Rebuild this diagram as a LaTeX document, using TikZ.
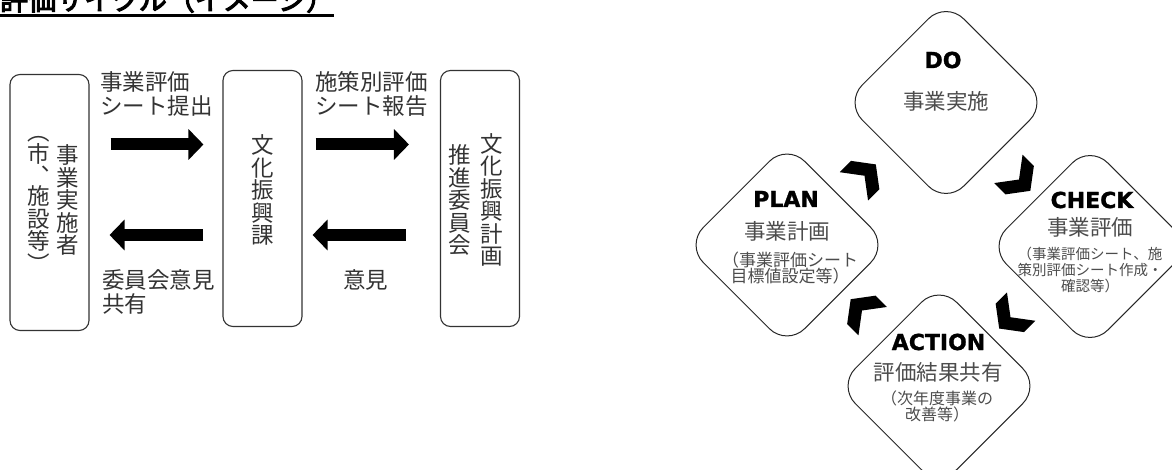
\documentclass[tikz,border=0pt]{standalone}
\usepackage{fontspec}
\setmainfont{Noto Sans CJK JP}
\newfontfamily\midashifont{Noto Sans CJK JP}[FakeBold=4]
\newfontfamily\pdcafont{DejaVu Sans}[BoldFeatures={FakeBold=1.2}]
\usetikzlibrary{shapes.geometric,arrows.meta,calc}

\tikzset{
  waku/.style={draw=black!80,line width=1.1pt,rounded corners=10pt,inner sep=0pt,minimum width=79pt,minimum height=256pt},
  tate/.style={align=center,inner sep=0pt,text=black!80,font=\fontsize{22.5pt}{22.5pt}\selectfont},
  yoko/.style={align=left,anchor=base west,inner sep=0pt,text=black!80,font=\fontsize{22.5pt}{24pt}\selectfont},
  fatarrow/.style={line width=12pt,-{Triangle[width=30pt,length=15pt]}},
  hishi/.style={diamond,draw=black!85,line width=1pt,rounded corners=25pt,minimum size=203pt,inner sep=0pt},
  pdca/.style={anchor=base,inner sep=0pt,font=\pdcafont\bfseries\fontsize{22pt}{22pt}\selectfont},
  naiyo/.style={anchor=base,inner sep=0pt,text=black!70,font=\fontsize{21.5pt}{22pt}\selectfont},
  hosoku/.style={anchor=base,align=center,inner sep=0pt,text=black!70},
  chevron/.pic={\fill (16pt,0pt) -- (1pt,20pt) -- (-15pt,20pt) -- (0pt,0pt) -- (-15pt,-20pt) -- (1pt,-20pt) -- cycle;}
}

\begin{document}
\begin{tikzpicture}[x=1pt,y=-1pt]
\useasboundingbox (0,0) rectangle (1172,470);
\clip (0,0) rectangle (1172,470);

\node[anchor=base west,inner sep=0pt,font=\midashifont\fontsize{28pt}{28pt}\selectfont] (title) at (0,10) {評価サイクル（イメージ）};
\draw[line width=2.5pt] ($(title.base west)+(0,5.3)$) -- ($(title.base east)+(0,5.3)$);

% left: flow between the three bodies
\node[waku] (jisshi) at (49.5,202.5) {};
\node[waku] (bunka) at (262.5,198.5) {};
\node[waku] (suishin) at (480,198.5) {};
\node[tate] (jisshi-a) at ($(jisshi)+(18.5,-2.5)$) {事\\業\\実\\施\\者};
\node[tate] (jisshi-b) at ($(jisshi)+(-10.5,1.5)$) {︵\\市\\[-1pt]︑\\[-2pt]施\\設\\等\\︶};
\node[tate] (bunka-a) at ($(bunka)+(0,-8.5)$) {文\\化\\振\\興\\課};
\node[tate] (suishin-a) at ($(suishin)+(12,1.5)$) {文\\化\\振\\興\\計\\画};
\node[tate] (suishin-b) at ($(suishin)+(-20,1.5)$) {推\\進\\委\\員\\会};

\draw[fatarrow] ($(jisshi.east)+(21,-58)$) -- ($(bunka.west)+(-19,-54)$);
\draw[fatarrow] ($(bunka.west)+(-19,36.5)$) -- ($(jisshi.east)+(20,32.5)$);
\draw[fatarrow] ($(bunka.east)+(13,-54)$) -- ($(suishin.west)+(-31,-54)$);
\draw[fatarrow] ($(suishin.west)+(-34,36.5)$) -- ($(bunka.east)+(10,36.5)$);

\node[yoko] (teishutsu) at (100,115) {事業評価\\シート提出};
\node[yoko] (hokoku) at (315,115) {施策別評価\\シート報告};
\node[yoko] (kyoyu) at (102,312) {委員会意見\\共有};
\node[yoko] (iken) at (343,288) {意見};

% right: PDCA cycle
\node[hishi] (do) at (946,102.5) {};
\node[hishi] (plan) at (787,245) {};
\node[hishi] (check) at (1090,246.5) {};
\node[hishi] (action) at (939,386) {};

\node[pdca] (do-t) at ($(do)+(-3,-34.5)$) {DO};
\node[naiyo] (do-n) at ($(do)+(0,7.5)$) {事業実施};
\node[pdca] (plan-t) at ($(plan)+(-1,-38)$) {PLAN};
\node[naiyo] (plan-n) at ($(plan)+(0,-5)$) {事業計画};
\node[hosoku,font=\fontsize{17pt}{17pt}\selectfont] (plan-h) at ($(plan)+(3,38)$) {（事業評価シート\\目標値設定等）};
\node[pdca] (check-t) at ($(check)+(2,-38.5)$) {CHECK};
\node[naiyo] (check-n) at ($(check)+(0,-10.5)$) {事業評価};
\node[hosoku,font=\fontsize{14.5pt}{16pt}\selectfont] (check-h) at ($(check)+(0,44.5)$) {（事業評価シート、施\\策別評価シート作成・\\確認等）};
\node[pdca] (action-t) at ($(action)+(-0.5,-36)$) {ACTION};
\node[naiyo] (action-n) at ($(action)+(-1,-6)$) {評価結果共有};
\node[hosoku,font=\fontsize{16pt}{16pt}\selectfont] (action-h) at ($(action)+(-2,34)$) {（次年度事業の\\改善等）};

\pic[rotate=45] at ($(plan)!.5!(do)+(-2,2)$) {chevron};
\pic[rotate=-45] at ($(do)!.5!(check)+(1,5)$) {chevron};
\pic[rotate=-135] at ($(check)!.5!(action)+(-4,1)$) {chevron};
\pic[rotate=135] at ($(action)!.5!(plan)+(-1,-5)$) {chevron};
\end{tikzpicture}
\end{document}
